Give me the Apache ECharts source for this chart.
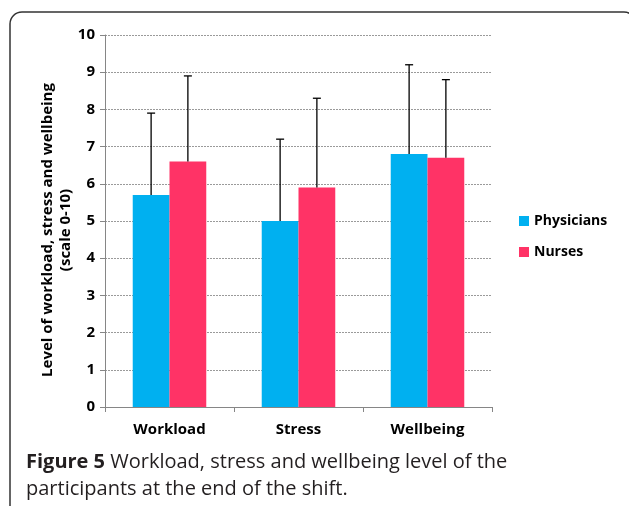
<!DOCTYPE html>
<html>
<head>
<meta charset="utf-8">
<script src="https://cdn.jsdelivr.net/npm/echarts@6/dist/echarts.min.js"></script>
<style>
  html, body { margin: 0; padding: 0; background: #fff; }
  #main { width: 629px; height: 506px; }
</style>
</head>
<body>
<div id="main"></div>
<script>
let categories = ['Workload', 'Stress', 'Wellbeing'];
let physicians = [5.7, 5.0, 6.8];
let nurses = [6.6, 5.9, 6.7];
// upper end of the error bars
let physiciansTop = [7.9, 7.2, 9.2];
let nursesTop = [8.9, 8.3, 8.8];
let yTicks = [0, 1, 2, 3, 4, 5, 6, 7, 8, 9, 10];

let colors = ['#00b0f0', '#ff3366'];
let catGap = 0.43;
let font = '"Open Sans", "Noto Sans", sans-serif';

let chart = echarts.init(document.getElementById('main'), null, { renderer: 'canvas' });

// draws upward error bars, side = -1 left bar, 1 right bar
function errorRender(side) {
  return function (params, api) {
    let i = api.value(0);
    let band = api.size([1, 0])[0];
    let barW = band * (1 - catGap) / 2;
    let base = api.coord([i, api.value(1)]);
    let top = api.coord([i, api.value(2)]);
    let x = base[0] + side * barW / 2;
    let cap = 4;
    return {
      type: 'group',
      children: [
        { type: 'line', shape: { x1: x, y1: base[1], x2: x, y2: top[1] }, style: { stroke: '#000', lineWidth: 1.3 } },
        { type: 'line', shape: { x1: x - cap, y1: top[1], x2: x + cap, y2: top[1] }, style: { stroke: '#000', lineWidth: 1.3 } }
      ]
    };
  };
}

let option = {
  animation: false,
  textStyle: { fontFamily: font },
  graphic: [
    {
      type: 'rect',
      shape: { x: 10, y: 12, width: 626, height: 510, r: 12 },
      style: { fill: 'none', stroke: '#333', lineWidth: 1.5 }
    },
    {
      type: 'text',
      left: 26,
      top: 449,
      style: {
        text: '{b|Figure 5} Workload, stress and wellbeing level of the\nparticipants at the end of the shift.',
        font: '20px ' + font,
        fill: '#231f20',
        lineHeight: 27,
        rich: {
          b: { fontWeight: 'bold', fontSize: 20, fontFamily: font, fill: '#231f20' }
        }
      }
    }
  ],
  legend: {
    orient: 'vertical',
    left: 514,
    top: 209,
    itemWidth: 10,
    itemHeight: 10,
    itemGap: 17,
    icon: 'rect',
    textStyle: { fontSize: 14, fontWeight: 'bold', color: '#000', fontFamily: font },
    data: ['Physicians', 'Nurses']
  },
  grid: { left: 105, right: 137, top: 35, bottom: 99 },
  xAxis: {
    type: 'category',
    data: categories,
    axisLine: { lineStyle: { color: '#868686' } },
    axisTick: { show: true, length: 5, lineStyle: { color: '#868686' } },
    axisLabel: { fontSize: 15, fontWeight: 'bold', color: '#000', margin: 15 }
  },
  yAxis: {
    type: 'value',
    min: yTicks[0],
    max: yTicks[yTicks.length - 1],
    interval: 1,
    name: 'Level of workload, stress and wellbeing\n(scale 0-10)',
    nameLocation: 'middle',
    nameGap: 30,
    nameMoveOverlap: false,
    nameTextStyle: { fontSize: 15, fontWeight: 'bold', color: '#000', lineHeight: 18, padding: [0, 18, 0, 0] },
    axisLine: { show: true, lineStyle: { color: '#868686' } },
    axisTick: { show: true, length: 5, lineStyle: { color: '#868686' } },
    axisLabel: { fontSize: 15, fontWeight: 'bold', color: '#000', margin: 10 },
    splitLine: { lineStyle: { color: '#9a9a9a', type: [2, 1], width: 1 } }
  },
  series: [
    {
      name: 'Physicians',
      type: 'bar',
      data: physicians,
      barGap: '0%',
      barCategoryGap: (catGap * 100) + '%',
      itemStyle: { color: colors[0] }
    },
    {
      name: 'Nurses',
      type: 'bar',
      data: nurses,
      itemStyle: { color: colors[1] }
    },
    {
      type: 'custom',
      renderItem: errorRender(-1),
      data: physicians.map((v, i) => [i, v, physiciansTop[i]]),
      encode: { x: 0, y: [1, 2] },
      z: 5,
      silent: true
    },
    {
      type: 'custom',
      renderItem: errorRender(1),
      data: nurses.map((v, i) => [i, v, nursesTop[i]]),
      encode: { x: 0, y: [1, 2] },
      z: 5,
      silent: true
    }
  ]
};

chart.setOption(option);
</script>
</body>
</html>
